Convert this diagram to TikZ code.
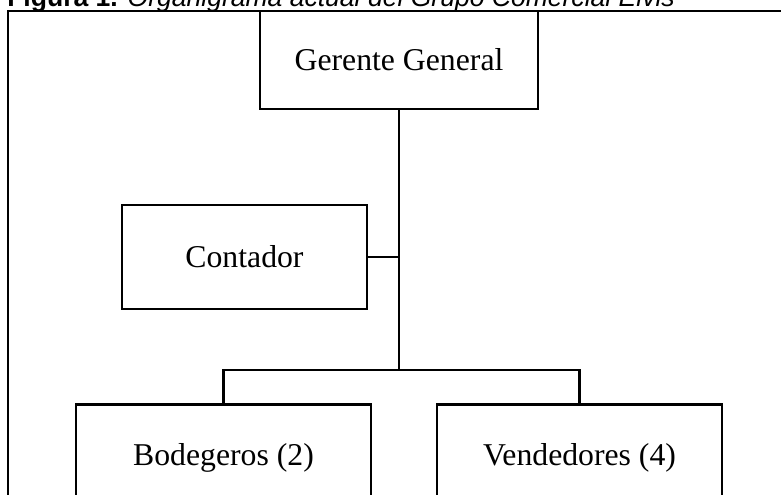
\documentclass[tikz,border=0pt]{standalone}
\usepackage{fontspec}
\setmainfont{Liberation Serif}
\newfontfamily\capfont{Liberation Sans}
\begin{document}
\begin{tikzpicture}[x=0.75pt,y=-0.75pt,
  orgbox/.style={draw=black, line width=2pt, fill=white, rectangle, inner sep=0pt,
    font=\fontsize{23.8}{28}\selectfont},
  link/.style={draw=black, line width=1.7pt},
  frame/.style={draw=black, line width=1.4pt}]
\useasboundingbox (0,0) rectangle (781,495);
\clip (0,0) rectangle (781,495);
% caption
\node[anchor=base west, inner sep=0pt, font=\capfont\fontsize{19.9}{24}\selectfont] (cap) at (7,6.7)
  {\textbf{Figura 1.} \textit{Organigrama actual del Grupo Comercial Elvis}};
% outer frame
\draw[frame, fill=white] (8,11) rectangle (800,520);
% boxes
\node[orgbox, minimum width=208.5pt, minimum height=73.5pt] (gg) at (399,60) {Gerente General};
\node[orgbox, minimum width=183.75pt, minimum height=78pt] (ct) at (244.5,257) {Contador};
\node[orgbox, anchor=north, minimum width=221.25pt, text height=45.75pt, text depth=42pt] (bd) at (223.5,403) {Bodegeros (2)};
\node[orgbox, anchor=north, minimum width=213.75pt, text height=45.75pt, text depth=42pt] (vd) at (579.5,403) {Vendedores (4)};
% connectors
\coordinate (jc) at (gg.south |- ct.east);
\coordinate (jb) at (399,370);
\draw[link] (gg.south) -- (jb);
\draw[link] (ct.east) -- (jc);
\draw[link] (bd.north) -- (bd.north |- jb) -- (vd.north |- jb) -- (vd.north);
\end{tikzpicture}
\end{document}
